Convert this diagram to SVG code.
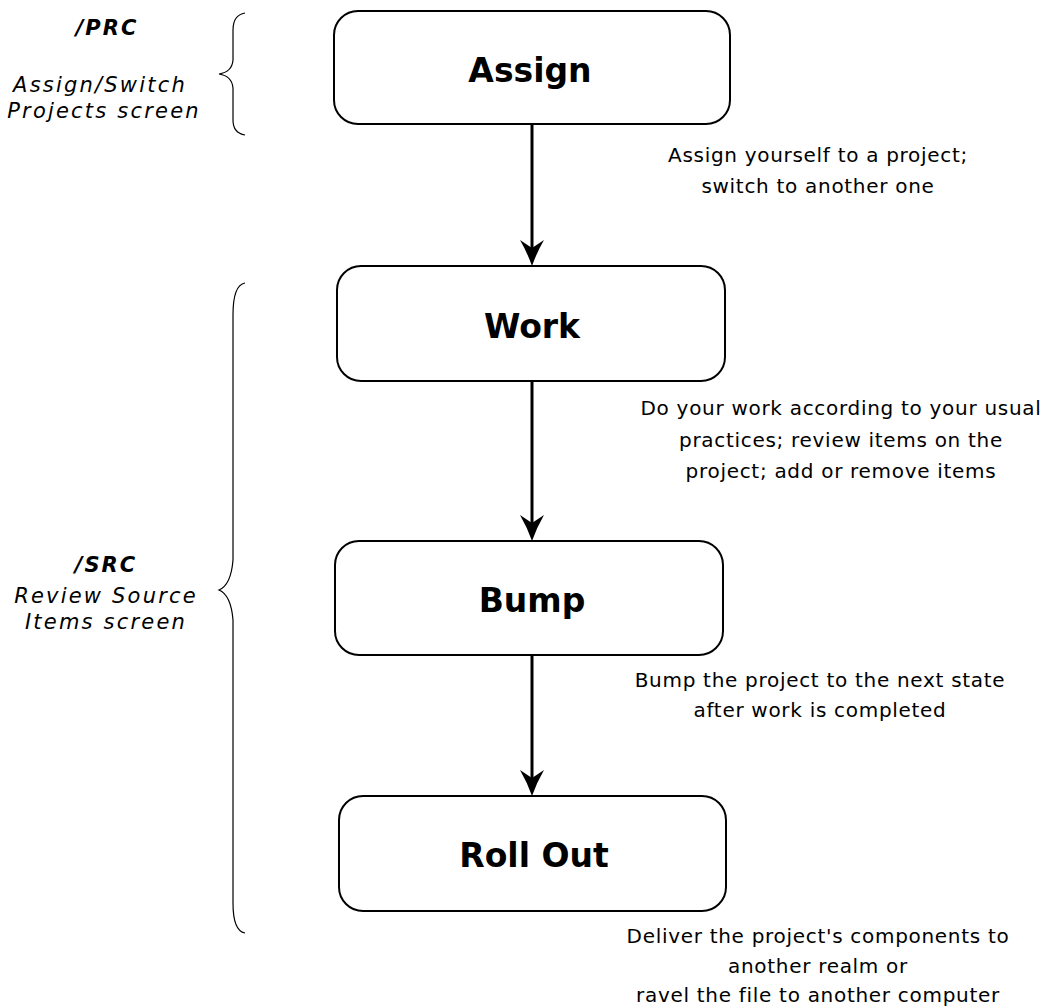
<svg xmlns="http://www.w3.org/2000/svg" width="1050" height="1008" viewBox="0 0 1050 1008">
<style>
.box{fill:#fff;stroke:#000;stroke-width:2}
.title{font-family:"DejaVu Sans",Verdana,sans-serif;font-weight:bold;font-size:33px;text-anchor:middle;fill:#000}
.desc{font-family:"DejaVu Sans",Verdana,sans-serif;font-size:20px;letter-spacing:0.7px;text-anchor:middle;fill:#000}
.code{font-family:"DejaVu Sans",Verdana,sans-serif;font-weight:bold;font-style:italic;font-size:21px;letter-spacing:2px;text-anchor:middle;fill:#000}
.scr{font-family:"DejaVu Sans",Verdana,sans-serif;font-style:italic;font-size:21px;letter-spacing:2.2px;text-anchor:middle;fill:#000}
.brace{fill:none;stroke:#000;stroke-width:1.2}
.conn{stroke:#000;stroke-width:3;fill:none}
</style>
<defs>
<marker id="ah" viewBox="0 0 26 24" markerWidth="26" markerHeight="24" refX="16" refY="12" orient="auto" markerUnits="userSpaceOnUse">
<path d="M0,0 Q12,7 26,12 Q12,17 0,24 L8,12 Z" fill="#000"/>
</marker>
</defs>
<g id="connectors">
<line class="conn" x1="532" y1="124" x2="532" y2="256" marker-end="url(#ah)"/>
<line class="conn" x1="532" y1="381" x2="532" y2="531" marker-end="url(#ah)"/>
<line class="conn" x1="532" y1="655" x2="532" y2="786" marker-end="url(#ah)"/>
</g>
<g id="assign">
<rect class="box" x="334" y="11" width="396" height="113" rx="24"/>
<text class="title" x="530" y="82">Assign</text>
</g>
<g id="work">
<rect class="box" x="337" y="266" width="388" height="115" rx="24"/>
<text class="title" x="532" y="338">Work</text>
</g>
<g id="bump">
<rect class="box" x="335" y="541" width="388" height="114" rx="24"/>
<text class="title" x="532" y="612">Bump</text>
</g>
<g id="rollout">
<rect class="box" x="339" y="796" width="387" height="115" rx="24"/>
<text class="title" x="534" y="867">Roll Out</text>
</g>
<g id="desc-assign">
<text class="desc" x="818" y="162">Assign yourself to a project;</text>
<text class="desc" x="818" y="193">switch to another one</text>
</g>
<g id="desc-work">
<text class="desc" x="841" y="415">Do your work according to your usual</text>
<text class="desc" x="841" y="447">practices; review items on the</text>
<text class="desc" x="841" y="478">project; add or remove items</text>
</g>
<g id="desc-bump">
<text class="desc" x="820" y="687">Bump the project to the next state</text>
<text class="desc" x="820" y="717">after work is completed</text>
</g>
<g id="desc-rollout">
<text class="desc" x="818" y="943">Deliver the project's components to</text>
<text class="desc" x="818" y="973">another realm or</text>
<text class="desc" x="818" y="1002">ravel the file to another computer</text>
</g>
<g id="prc-label">
<path class="brace" d="M245,13 Q233,15 233,30 L233,60 Q232,72 219,74 Q232,76 233,88 L233,120 Q233,133 245,135"/>
<text class="code" x="107" y="35">/PRC</text>
<text class="scr" x="100" y="92">Assign/Switch</text>
<text class="scr" x="104" y="118">Projects screen</text>
</g>
<g id="src-label">
<path class="brace" d="M245,283 Q233,285 233,315 L233,560 Q231,585 219,590 Q231,595 233,620 L233,903 Q233,931 245,933"/>
<text class="code" x="106" y="572">/SRC</text>
<text class="scr" x="106" y="603">Review Source</text>
<text class="scr" x="106" y="629">Items screen</text>
</g>
</svg>
